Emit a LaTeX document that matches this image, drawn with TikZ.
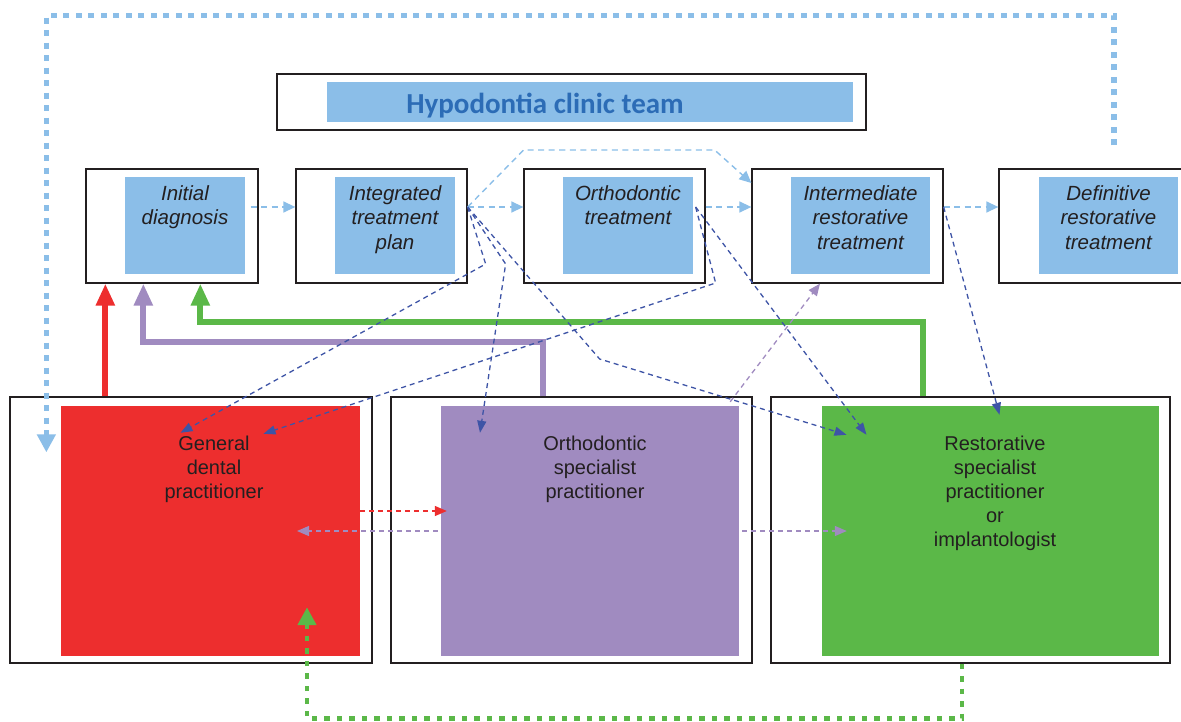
\documentclass[tikz,border=0pt]{standalone}
\usepackage{fontspec}
\setsansfont{Liberation Sans}
\newfontfamily\titlefont{Carlito}
\usepackage{tikz}
\usetikzlibrary{arrows.meta}

\definecolor{panelblue}{RGB}{139,190,232}
\definecolor{titleblue}{RGB}{44,108,182}
\definecolor{gdpred}{RGB}{237,46,46}
\definecolor{orthopurple}{RGB}{160,139,192}
\definecolor{restgreen}{RGB}{91,184,72}
\definecolor{linkblue}{RGB}{62,84,166}
\definecolor{inkgrey}{RGB}{35,31,32}

\tikzset{
	boxframe/.style={draw=inkgrey, line width=1.3pt, fill=white, inner sep=0pt},
	panel/.style={inner sep=0pt},
	stagetext/.style={font=\sffamily\itshape\fontsize{20.5}{24.5}\selectfont, text=inkgrey, align=center, anchor=north, inner sep=0pt},
	roletext/.style={font=\sffamily\fontsize{20}{24}\selectfont, text=inkgrey, align=center, anchor=north, inner sep=0pt},
	flow/.style={draw=panelblue, line width=1.4pt, dash pattern=on 6pt off 4.5pt, -{Triangle[length=12pt,width=11pt]}},
	link/.style={draw=linkblue, line width=1.3pt, dash pattern=on 5pt off 4pt, -{Triangle[length=12pt,width=9pt]}},
	tinted/.style={line width=1.3pt, dash pattern=on 5pt off 4pt, -{Triangle[length=12pt,width=10pt]}},
	back/.style={line width=6pt, -{Triangle[length=22pt,width=18pt]}},
	loopline/.style={dash pattern=on 6pt off 6.5pt, -{Triangle[length=18pt,width=18pt]}}
}

\begin{document}
\begin{tikzpicture}[x=1pt, y=-1pt]
			\useasboundingbox (0,0) rectangle (1181,722);
			\node[boxframe, minimum width=589pt, minimum height=56pt] (teamF) at (571.5,102) {};
			\node[panel, fill=panelblue, minimum width=526pt, minimum height=40pt] (team) at (590,102) {};
			\node[font=\titlefont\bfseries\fontsize{29}{31}\selectfont, text=titleblue, inner sep=0pt, anchor=base] (teamT) at (545,114) {Hypodontia clinic team};
			\node[boxframe, minimum width=172pt, minimum height=114pt] (diagF) at (172,226) {};
			\node[boxframe, minimum width=171pt, minimum height=114pt] (planF) at (381.5,226) {};
			\node[boxframe, minimum width=181pt, minimum height=114pt] (orthF) at (614.5,226) {};
			\node[boxframe, minimum width=191pt, minimum height=114pt] (intF) at (847.5,226) {};
			\node[boxframe, minimum width=192pt, minimum height=114pt] (defF) at (1095,226) {};
			\node[panel, fill=panelblue, minimum width=120pt, minimum height=97pt] (diag) at (185,225.5) {};
			\node[panel, fill=panelblue, minimum width=120pt, minimum height=97pt] (plan) at (395,225.5) {};
			\node[panel, fill=panelblue, minimum width=130pt, minimum height=97pt] (orth) at (628,225.5) {};
			\node[panel, fill=panelblue, minimum width=139pt, minimum height=97pt] (int) at (860.5,225.5) {};
			\node[panel, fill=panelblue, minimum width=139pt, minimum height=97pt] (def) at (1108.5,225.5) {};
			\node[stagetext] (diagT) at (185,185) {Initial\\diagnosis};
			\node[stagetext] (planT) at (395,185) {Integrated\\treatment\\plan};
			\node[stagetext] (orthT) at (628,185) {Orthodontic\\treatment};
			\node[stagetext] (intT) at (860.5,185) {Intermediate\\restorative\\treatment};
			\node[stagetext] (defT) at (1108.5,185) {Definitive\\restorative\\treatment};
			\node[boxframe, minimum width=362pt, minimum height=266pt] (gdpF) at (191,530) {};
			\node[boxframe, minimum width=361pt, minimum height=266pt] (osF) at (571.5,530) {};
			\node[boxframe, minimum width=399pt, minimum height=266pt] (rsF) at (970.5,530) {};
			\node[panel, fill=gdpred, minimum width=299pt, minimum height=250pt] (gdp) at (210.5,531) {};
			\node[panel, fill=orthopurple, minimum width=298pt, minimum height=250pt] (os) at (590,531) {};
			\node[panel, fill=restgreen, minimum width=337pt, minimum height=250pt] (rs) at (990.5,531) {};
			\node[roletext] (gdpT) at (214,436) {General\\dental\\practitioner};
			\node[roletext] (osT) at (595,436) {Orthodontic\\specialist\\practitioner};
			\node[roletext] (rsT) at (995,436) {Restorative\\specialist\\practitioner\\or\\implantologist};
			\draw[back, gdpred] ([xshift=96pt]gdpF.north west) -- ([xshift=20pt]diagF.south west);
			\draw[back, orthopurple] ([xshift=-28.5pt]osF.north) |- ([shift={(58,58)}]diagF.south west) -- ([xshift=58pt]diagF.south west);
			\draw[back, restgreen] ([xshift=-47.5pt]rsF.north) |- ([shift={(115,38)}]diagF.south west) -- ([xshift=115pt]diagF.south west);
			\draw[loopline, panelblue, line width=5.5pt] ([shift={(19,-23)}]defF.north) -- ++(0,-130) -| ([shift={(37,56)}]gdpF.north west);
			\draw[loopline, restgreen, line width=4.5pt, dash pattern=on 5.5pt off 7pt] ([xshift=-8.5pt]rsF.south) -- ++(0,55) -| ([shift={(96.5,-49)}]gdp.south);
			\draw[flow] ([xshift=-8pt,yshift=19pt]diagF.east) -- ([yshift=19pt]planF.west);
			\draw[flow] ([yshift=19pt]planF.east) -- ([yshift=19pt]orthF.west);
			\draw[flow] ([yshift=19pt]orthF.east) -- ([yshift=19pt]intF.west);
			\draw[flow] ([yshift=19pt]intF.east) -- ([yshift=19pt]defF.west);
			\draw[flow] ([yshift=19pt]planF.east) -- ++(56,-57) -- ++(191,0) -- ([yshift=43pt]intF.west);
			\draw[link] ([yshift=19pt]planF.east) -- ++(18,57) -- ([shift={(-30,27)}]gdp.north);
			\draw[link] ([yshift=19pt]planF.east) -- ++(38,57) -- ([shift={(-110,27)}]os.north);
			\draw[link] ([yshift=19pt]planF.east) -- ++(132,152) -- ([shift={(-144,29)}]rs.north);
			\draw[link] ([xshift=-10pt,yshift=19pt]orthF.east) -- ++(20,76) -- ([shift={(53,28)}]gdp.north);
			\draw[link] ([xshift=-10pt,yshift=19pt]orthF.east) -- ([shift={(-124,29)}]rs.north);
			\draw[link] ([yshift=19pt]intF.east) -- ([shift={(9,9)}]rs.north);
			\draw[tinted, orthopurple] ([shift={(-9,-4)}]os.north east) -- ([xshift=-27.5pt]intF.south);
			\draw[tinted, orthopurple] ([xshift=-3pt]os.west) -- ([xshift=86.5pt]gdp.center);
			\draw[tinted, orthopurple] ([xshift=3pt]os.east) -- ([xshift=25pt]rs.west);
			\draw[tinted, gdpred] ([yshift=20pt]gdp.east) -- ([xshift=6pt,yshift=20pt]os.west);
		\end{tikzpicture}
\end{document}
